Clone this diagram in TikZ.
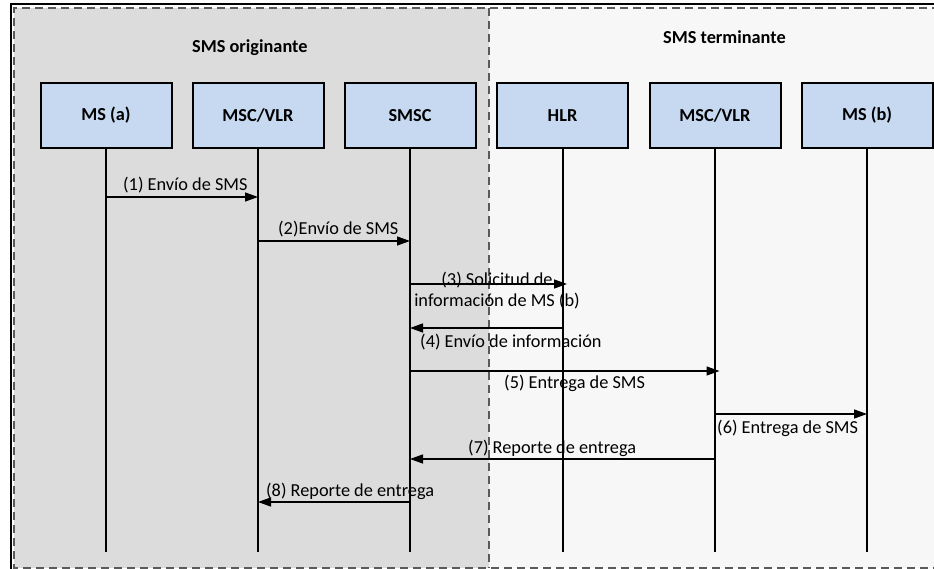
\documentclass[tikz,border=0pt]{standalone}
\usepackage{fontspec}
\setmainfont{Carlito}
\usetikzlibrary{arrows.meta}
\definecolor{boxblue}{HTML}{C6D9F1}
\definecolor{leftbg}{HTML}{DCDCDC}
\definecolor{rightbg}{HTML}{F7F7F7}
\definecolor{dashgray}{HTML}{5A5A5A}
\begin{document}
\begin{tikzpicture}[x=1pt,y=-1pt,
  entity/.style={draw=black, line width=2pt, fill=boxblue, minimum width=131pt, minimum height=65pt, inner sep=0pt, font=\fontsize{18.3}{22}\selectfont\bfseries},
  lifeline/.style={draw=black, line width=2pt},
  msg/.style={draw=black, line width=1.3pt, -{Triangle[length=13pt,width=9pt]}},
  lbl/.style={font=\fontsize{18.3}{22}\selectfont, inner sep=0pt, anchor=base west},
  region/.style={draw=dashgray, line width=1.2pt, dash pattern=on 8pt off 5pt}]
\useasboundingbox (0,0) rectangle (934,569);
% regions
\fill[rightbg] (489,8) rectangle (940,568);
\fill[leftbg] (14,8) rectangle (489,568);
\draw[region] (940,8) -- (14,8) -- (14,568) -- (940,568);
\draw[region] (489,8) -- (489,568);
\draw[black, line width=2pt] (10.5,569) -- (10.5,4.5) -- (934,4.5);
% headers
\node[lbl, font=\fontsize{18.3}{22}\selectfont\bfseries] (horig) at (192,53) {SMS originante};
\node[lbl, font=\fontsize{18.3}{22}\selectfont\bfseries] (hterm) at (663,44) {SMS terminante};
% entities
\node[entity] (msa) at (106,115.5) {MS (a)};
\node[entity] (mscA) at (258,115.5) {MSC/VLR};
\node[entity] (smsc) at (410,115.5) {SMSC};
\node[entity] (hlr) at (562.5,115.5) {HLR};
\node[entity] (mscB) at (715,115.5) {MSC/VLR};
\node[entity] (msb) at (867,115.5) {MS (b)};
% lifelines
\foreach \n in {msa,mscA,smsc,hlr,mscB,msb}
  \draw[lifeline] (\n.south) -- (\n.south |- 0,552);
% messages
\draw[msg] (msa |- 0,197) -- (mscA |- 0,197);
\node[lbl] (l1) at (123,191) {(1) Envío de SMS};
\draw[msg] (mscA |- 0,241) -- (smsc |- 0,241);
\node[lbl] (l2) at (278,235) {(2)Envío de SMS};
\draw[msg, shorten >=-4.5pt] (smsc |- 0,284) -- (hlr |- 0,284);
\node[lbl, anchor=base] (l3a) at (497,286) {(3) Solicitud de};
\node[lbl, anchor=base] (l3b) at (497,306) {información de MS (b)};
\draw[msg] (hlr |- 0,328) -- (smsc |- 0,328);
\node[lbl] (l4) at (420,347) {(4) Envío de información};
\draw[msg, shorten >=-4.5pt] (smsc |- 0,371) -- (mscB |- 0,371);
\node[lbl] (l5) at (504,388) {(5) Entrega de SMS};
\draw[msg] (mscB |- 0,414) -- (msb |- 0,414);
\node[lbl] (l6) at (717,433) {(6) Entrega de SMS};
\draw[msg] (mscB |- 0,459) -- (smsc |- 0,459);
\node[lbl] (l7) at (468,453) {(7) Reporte de entrega};
\draw[msg] (smsc |- 0,502) -- (mscA |- 0,502);
\node[lbl] (l8) at (266,496) {(8) Reporte de entrega};
\end{tikzpicture}
\end{document}
